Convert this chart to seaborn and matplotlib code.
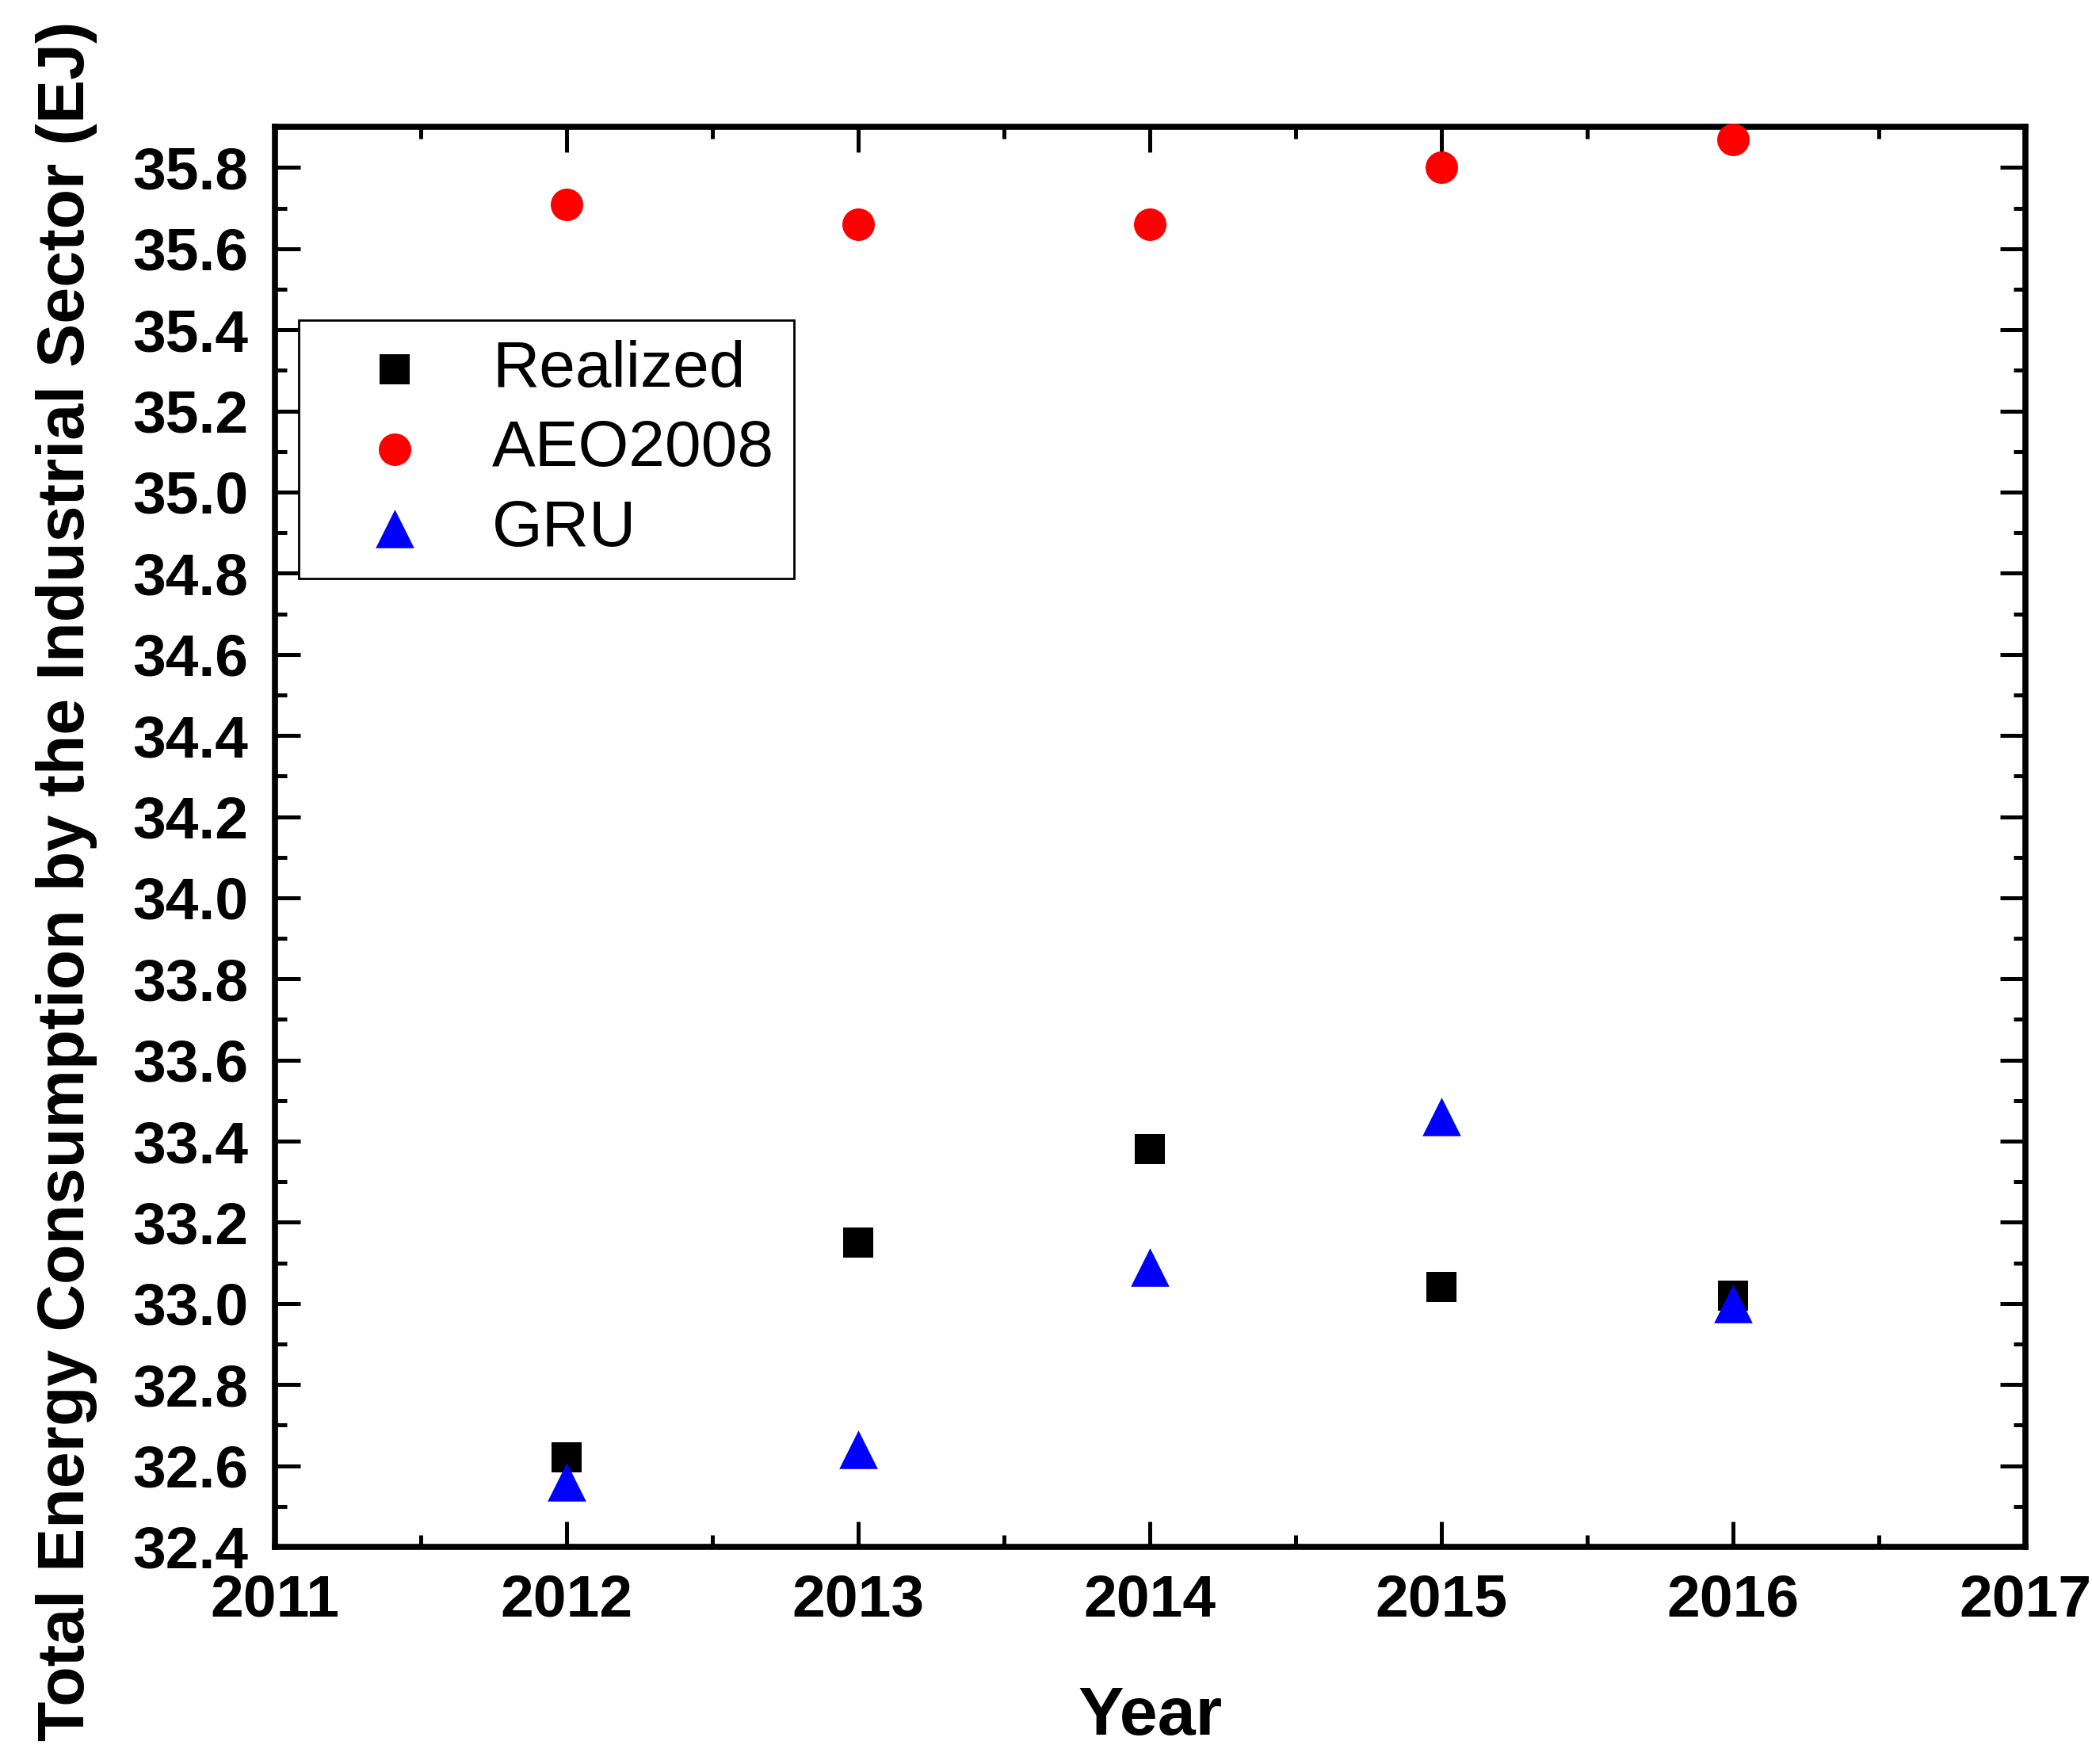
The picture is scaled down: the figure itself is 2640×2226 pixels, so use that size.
import matplotlib
matplotlib.use("Agg")
import matplotlib.pyplot as plt
import seaborn as sns
import pandas as pd
from matplotlib.ticker import MultipleLocator, FixedLocator

# ---- data ----
years = [2012, 2013, 2014, 2015, 2016]
realized = [32.62, 33.15, 33.38, 33.04, 33.02]
aeo2008 = [35.71, 35.66, 35.66, 35.80, 35.87]
gru = [32.56, 32.64, 33.09, 33.46, 33.00]
series_names = ["Realized", "AEO2008", "GRU"]
x_tick_values = [2011, 2012, 2013, 2014, 2015, 2016, 2017]
y_tick_values = [32.4, 32.6, 32.8, 33.0, 33.2, 33.4, 33.6, 33.8, 34.0,
                 34.2, 34.4, 34.6, 34.8, 35.0, 35.2, 35.4, 35.6, 35.8]
x_label = "Year"
y_label = "Total Energy Consumption by the Industrial Sector (EJ)"

df = pd.DataFrame({
    "Year": years * 3,
    "Value": realized + aeo2008 + gru,
    "Series": [s for s in series_names for _ in years],
})

sns.set_theme(style="ticks")
plt.rcParams["font.family"] = ["Liberation Sans", "DejaVu Sans"]
for k in ["text.color", "axes.labelcolor", "xtick.color", "ytick.color", "axes.edgecolor"]:
    plt.rcParams[k] = "black"

fig = plt.figure(figsize=(26.4, 22.26), dpi=100)
ax = fig.add_axes([0.1314, 0.1231, 0.968 - 0.1314, 0.928 - 0.1231])

styles = {
    "Realized": dict(marker="s", color="black", s=28 ** 2),
    "AEO2008": dict(marker="o", color="#ff0000", s=29.5 ** 2),
    "GRU": dict(marker="^", color="#0000ff", s=35 ** 2),
}
for name in series_names:
    st = styles[name]
    sns.scatterplot(data=df[df["Series"] == name], x="Year", y="Value", ax=ax,
                    marker=st["marker"], color=st["color"], s=st["s"],
                    linewidth=0, label=name, zorder=3, clip_on=False)

ax.set_xlim(2011, 2017)
ax.set_ylim(32.4, 35.9)
ax.xaxis.set_major_locator(FixedLocator(x_tick_values))
ax.xaxis.set_minor_locator(MultipleLocator(0.5))
ax.yaxis.set_major_locator(FixedLocator(y_tick_values))
ax.yaxis.set_minor_locator(MultipleLocator(0.1))
ax.set_xticklabels([str(v) for v in x_tick_values])
ax.set_yticklabels([f"{v:.1f}" for v in y_tick_values])

for sp in ax.spines.values():
    sp.set_linewidth(5.5)
    sp.set_color("black")
    sp.set_visible(True)

ax.tick_params(which="major", direction="in", length=23, width=3.6,
               top=True, right=True, labelsize=54, pad=24, color="black",
               labelcolor="black")
ax.tick_params(which="minor", direction="in", length=11, width=3.6,
               top=True, right=True, color="black")
for lab in ax.get_xticklabels() + ax.get_yticklabels():
    lab.set_fontweight("bold")

ax.set_xlabel(x_label, fontsize=62, fontweight="bold", labelpad=52)
ax.set_ylabel(y_label, fontsize=59.5, fontweight="bold")
ax.yaxis.set_label_coords(-0.1015, 0.469)

leg = ax.legend(loc="upper left", bbox_to_anchor=(0.0136, 0.864),
                borderaxespad=0, fontsize=59, frameon=True, fancybox=False,
                framealpha=1, edgecolor="black", handletextpad=0.33,
                labelspacing=0.3, borderpad=0.3, handlelength=2.35,
                markerscale=1.0)
leg.get_frame().set_linewidth(2)

fig.savefig("out.png", dpi=100, facecolor="white")
